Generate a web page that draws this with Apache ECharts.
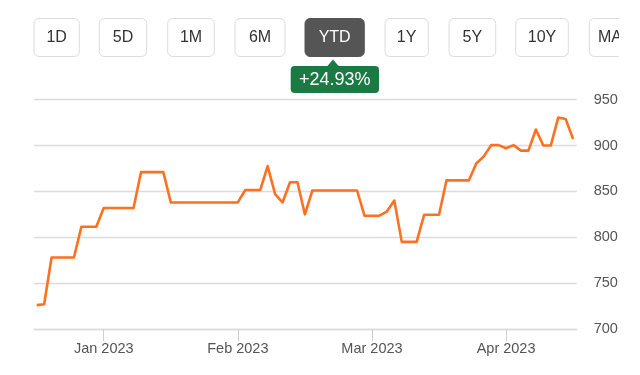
<!DOCTYPE html>
<html>
<head>
<meta charset="utf-8">
<script src="https://cdn.jsdelivr.net/npm/echarts@6/dist/echarts.min.js"></script>
<style>
html,body{margin:0;padding:0;background:#fff;}
#chart{width:640px;height:375px;}
</style>
</head>
<body>
<div id="chart"></div>
<script>
// Trading-step index along the x axis (evenly spaced points)
const steps = [0,1,2,5,6,8,9,13,14,17,18,27,28,30,31,32,33,34,35,36,37,43,44,46,47,48,49,51,52,54,55,58,59,60,61,62,63,64,65,66,67,68,69,70,71,72];
// Price values
const prices = [726,727,778,778,811.5,811.5,832,832,871,871,838,838,851.5,851.5,877.5,847,838,860,860,825,851,851,823.5,823.5,828,840,795,795,824.5,824.5,862,862,880.5,888,900.5,900.5,897,900.5,894.5,894.5,917.5,900,900,930.5,929,907];
// Month tick positions (step index) and labels
const monthTicks = [9,27,45,63];
const monthLabels = ['Jan 2023','Feb 2023','Mar 2023','Apr 2023'];
// Range buttons
const rangeButtons = ['1D','5D','1M','6M','YTD','1Y','5Y','10Y','MAX'];
const activeButton = 'YTD';
const changeText = '+24.93%';

const btnPos = [[34,45.3],[99.3,47.4],[167.7,46.6],[235,50],[305,59.3],[385,43.3],[449,46.7],[515.7,52.6],[589.3,52]];
const FONT = '"Liberation Sans", Arial, sans-serif';

const graphics = [];
rangeButtons.forEach((label, i) => {
  const [x, w] = btnPos[i];
  const active = label === activeButton;
  graphics.push({
    type: 'rect', z: 10,
    shape: {x: x, y: 18.5, width: w, height: 38, r: 5},
    style: {fill: active ? '#555555' : '#ffffff', stroke: active ? '#555555' : '#dcdcdc', lineWidth: 1}
  });
  graphics.push({
    type: 'text', z: 11,
    x: x + w / 2, y: 37.5,
    style: {text: label, fill: active ? '#ffffff' : '#333333', font: '16px ' + FONT, align: 'center', verticalAlign: 'middle'}
  });
});
// clip the last button at the image edge
graphics.push({type: 'rect', z: 12, shape: {x: 619, y: 0, width: 21, height: 70}, style: {fill: '#ffffff'}});
// badge
graphics.push({type: 'polygon', z: 10, shape: {points: [[327, 66.5], [333, 59.5], [339, 66.5]]}, style: {fill: '#1b7a44'}});
graphics.push({type: 'rect', z: 10, shape: {x: 290.7, y: 66, width: 88.3, height: 27, r: 4}, style: {fill: '#1b7a44'}});
graphics.push({type: 'text', z: 11, x: 334.8, y: 79.8,
  style: {text: changeText, fill: '#ffffff', font: '18px ' + FONT, align: 'center', verticalAlign: 'middle'}});

const chart = echarts.init(document.getElementById('chart'), null, {renderer: 'canvas'});
chart.setOption({
  animation: false,
  backgroundColor: '#ffffff',
  grid: {left: 34, right: 63.3, top: 99.7, bottom: 46, containLabel: false},
  xAxis: {
    type: 'value', min: -0.36, max: 72.48,
    axisLine: {show: true, lineStyle: {color: '#dcdcdc', width: 1.3}},
    axisTick: {show: true, customValues: monthTicks, length: 12, lineStyle: {color: '#cfcfcf', width: 1}},
    axisLabel: {show: true, customValues: monthTicks, margin: 12, color: '#555555', fontSize: 14.5, fontFamily: FONT,
      formatter: v => monthLabels[monthTicks.indexOf(v)] || ''},
    splitLine: {show: false}
  },
  yAxis: {
    type: 'value', position: 'right', min: 700, max: 950, interval: 50,
    axisLine: {show: false}, axisTick: {show: false},
    axisLabel: {margin: 17, color: '#555555', fontSize: 14.5, fontFamily: FONT},
    splitLine: {show: true, lineStyle: {color: '#dcdcdc', width: 1.3}}
  },
  series: [{
    type: 'line',
    data: steps.map((s, i) => [s, prices[i]]),
    showSymbol: false,
    lineStyle: {color: '#ff7020', width: 2.6, join: 'round'},
    itemStyle: {color: '#ff7020'}
  }],
  graphic: graphics
});
</script>
</body>
</html>
